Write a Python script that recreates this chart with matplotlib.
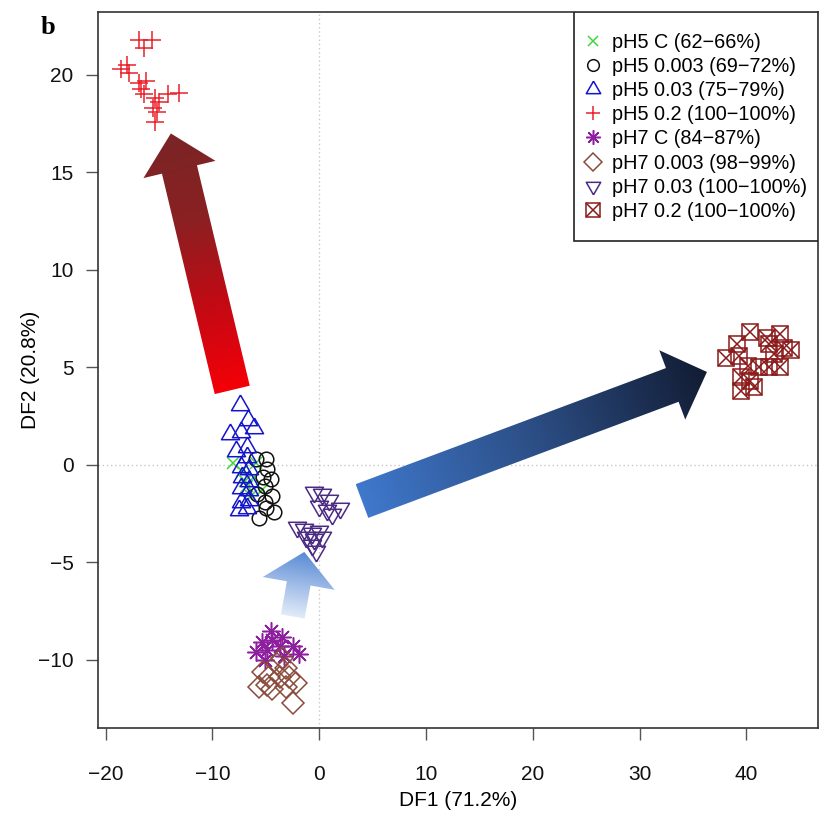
import numpy as np
import matplotlib
matplotlib.use('Agg')
import matplotlib.pyplot as plt
from matplotlib.patches import Polygon, Rectangle
from matplotlib.colors import LinearSegmentedColormap

plt.rcParams['font.family'] = ['Liberation Sans', 'DejaVu Sans']

# ---- data ----
ph5_c_x = [-8.1, -7.2, -6.1, -6.8, -5.9, -6.4, -7.0, -5.4]
ph5_c_y = [0.1, -0.3, -0.6, -1.1, 0.1, -1.6, -0.8, -1.3]

ph5_003_x = [-5.9, -5.0, -4.9, -5.3, -4.5, -5.1, -4.4, -5.1, -4.2, -5.6, -5.0, -5.8]
ph5_003_y = [0.3, 0.3, -0.2, -0.6, -0.7, -1.1, -1.6, -1.9, -2.4, -2.7, -2.2, -1.5]

ph5_03_x = [-7.4, -6.7, -8.4, -7.3, -6.1, -6.8, -7.8, -6.8, -7.3, -6.6,
            -7.2, -6.6, -7.3, -6.6, -7.3, -6.6, -7.5, -6.8]
ph5_03_y = [3.1, 2.3, 1.6, 1.7, 1.9, 0.9, 0.7, 0.4, -0.1, -0.2,
            -0.6, -0.8, -1.2, -1.3, -1.9, -1.8, -2.3, -2.2]

ph5_2_x = [-16.9, -15.7, -16.4, -18.6, -18.0, -17.8, -16.9, -16.2, -16.7,
           -16.4, -15.4, -14.2, -13.1, -15.0, -15.6, -15.2, -15.4]
ph5_2_y = [21.8, 21.8, 21.4, 20.3, 20.5, 20.1, 19.6, 19.7, 19.3,
           19.0, 18.8, 19.0, 19.1, 18.6, 18.3, 18.1, 17.6]

ph7_c_x = [-4.5, -5.4, -5.9, -4.4, -3.7, -2.5, -1.9, -4.9, -3.5, -5.1, -3.3]
ph7_c_y = [-8.5, -9.1, -9.6, -9.0, -9.3, -9.3, -9.7, -9.5, -8.8, -10.0, -9.8]

ph7_003_x = [-3.5, -4.0, -3.1, -5.3, -4.7, -3.7, -5.6, -4.9, -2.8, -2.2, -2.5, -3.1, -4.4]
ph7_003_y = [-9.9, -10.2, -10.4, -10.6, -10.9, -10.9, -11.4, -11.3, -10.9, -11.2, -12.2, -11.4, -11.5]

ph7_03_x = [-0.5, 0.3, 0.9, 0.0, 0.7, 1.9, 1.2, -2.1, -1.4, -0.7, 0.0, -1.2, -0.5, 0.3, -0.3, -0.7]
ph7_03_y = [-1.4, -1.5, -1.8, -2.1, -2.3, -2.2, -2.5, -3.2, -3.3, -3.5, -3.4, -3.7, -3.8, -3.7, -4.4, -4.1]

ph7_2_x = [40.3, 41.9, 43.1, 39.1, 38.1, 39.3, 40.1, 42.1, 43.5, 44.2,
           42.6, 41.2, 42.1, 43.1, 39.5, 40.3, 39.5, 40.7]
ph7_2_y = [6.8, 6.5, 6.7, 6.2, 5.5, 5.6, 5.1, 6.2, 6.0, 5.9,
           5.7, 5.0, 5.0, 5.0, 4.5, 4.3, 3.8, 4.0]

labels = ['pH5 C (62\u221266%)', 'pH5 0.003 (69\u221272%)', 'pH5 0.03 (75\u221279%)',
          'pH5 0.2 (100\u2212100%)', 'pH7 C (84\u221287%)', 'pH7 0.003 (98\u221299%)',
          'pH7 0.03 (100\u2212100%)', 'pH7 0.2 (100\u2212100%)']

# arrows: (tail, tip) in data units
arrow_red = ((-8.15, 3.85), (-13.9, 17.0))
arrow_blue = ((4.0, -1.85), (36.3, 4.77))
arrow_small = ((-2.48, -7.77), (-1.40, -4.46))

# ---- figure ----
W, H = 820, 817
fig = plt.figure(figsize=(W / 100, H / 100), dpi=100)
ax = fig.add_axes([98 / W, 1 - 728 / H, 720 / W, 716 / H])
XLIM = (-20.72, 46.7)
YLIM = (-13.49, 23.23)
ax.set_xlim(*XLIM)
ax.set_ylim(*YLIM)

ax.axhline(0, color='#c8c8c8', ls=(0, (1, 2)), lw=1, zorder=0)
ax.axvline(0, color='#c8c8c8', ls=(0, (1, 2)), lw=1, zorder=0)


def gradient_arrow(tail, tip, shaft_w, head_w, head_len, colors):
    T = ax.transData
    p0 = T.transform(tail)
    p1 = T.transform(tip)
    d = p1 - p0
    L = np.hypot(*d)
    u = d / L
    n = np.array([-u[1], u[0]])
    base = p1 - u * head_len
    pts = np.array([p0 + n * shaft_w / 2, base + n * shaft_w / 2, base + n * head_w / 2,
                    p1, base - n * head_w / 2, base - n * shaft_w / 2, p0 - n * shaft_w / 2])
    dpts = T.inverted().transform(pts)
    poly = Polygon(dpts, closed=True, facecolor='none', edgecolor='none')
    ax.add_patch(poly)
    x0, x1 = dpts[:, 0].min(), dpts[:, 0].max()
    y0, y1 = dpts[:, 1].min(), dpts[:, 1].max()
    gx, gy = np.meshgrid(np.linspace(x0, x1, 300), np.linspace(y0, y1, 300))
    disp = T.transform(np.column_stack([gx.ravel(), gy.ravel()]))
    t = ((disp - p0) @ u / L).reshape(gx.shape)
    cmap = LinearSegmentedColormap.from_list('g', colors)
    im = ax.imshow(np.clip(t, 0, 1), extent=[x0, x1, y0, y1], origin='lower', cmap=cmap,
                   vmin=0, vmax=1, aspect='auto', interpolation='bilinear', zorder=1)
    im.set_clip_path(poly)


gradient_arrow(*arrow_red, 36, 74, 37, ['#f40008', '#c20a14', '#8a2022', '#7a2526'])
gradient_arrow(*arrow_blue, 36, 74, 37, ['#3f78cc', '#2c4e85', '#121c33'])
gradient_arrow(*arrow_small, 24, 73, 32, ['#e2ecf9', '#5a8ad5'])

tri_up = [(0, 1), (-0.866, -0.5), (0.866, -0.5), (0, 1)]
tri_dn = [(0, -1), (-0.866, 0.5), (0.866, 0.5), (0, -1)]

kw = dict(ls='none', zorder=3)
h1, = ax.plot(ph5_c_x, ph5_c_y, marker='x', ms=9, mew=1.1, color='#3cd83c', **kw)
h2, = ax.plot(ph5_003_x, ph5_003_y, marker='o', ms=10.5, mew=1.1, mfc='none', mec='#111111', **kw)
h3, = ax.plot(ph5_03_x, ph5_03_y, marker=tri_up, ms=15, mew=1.1, mfc='none', mec='#1414cc', **kw)
h4, = ax.plot(ph5_2_x, ph5_2_y, marker='+', ms=13, mew=1.1, color='#e8202a', **kw)
h5, = ax.plot(ph7_c_x, ph7_c_y, marker=(8, 2, 0), ms=13, mew=1.1, color='#8e1f9e', **kw)
h6, = ax.plot(ph7_003_x, ph7_003_y, marker='D', ms=11.5, mew=1.1, mfc='none', mec='#8a4b3c', **kw)
h7, = ax.plot(ph7_03_x, ph7_03_y, marker=tri_dn, ms=15, mew=1.1, mfc='none', mec='#4b2a84', **kw)
h8a, = ax.plot(ph7_2_x, ph7_2_y, marker='s', ms=12, mew=1.1, mfc='none', mec='#8b1a1a', **kw)
h8b, = ax.plot(ph7_2_x, ph7_2_y, marker='x', ms=12, mew=1.1, color='#8b1a1a', **kw)

ax.set_xlim(*XLIM)
ax.set_ylim(*YLIM)
ax.set_xticks(np.arange(-20, 41, 10))
ax.set_yticks(np.arange(-10, 21, 5))
ax.tick_params(axis='both', direction='out', length=8.6, width=1, color='#555555',
               labelsize=15, labelcolor='#111111')
ax.tick_params(axis='x', pad=18)
ax.tick_params(axis='y', pad=9)
for s in ax.spines.values():
    s.set_color('#333333')
    s.set_linewidth(1.2)

ax.set_xlabel('DF1 (71.2%)', fontsize=15)
ax.set_ylabel('DF2 (20.8%)', fontsize=15)
ax.xaxis.set_label_coords(0.5, -0.088)
ax.yaxis.set_label_coords(-0.08, 0.5)

# legend box (R-style: taller at the bottom)
box = Rectangle((0.661, 0.680), 1 - 0.661, 0.320, transform=ax.transAxes,
                facecolor='white', edgecolor='#222222', lw=1.2, zorder=4)
ax.add_patch(box)
leg = ax.legend([h1, h2, h3, h4, h5, h6, h7, (h8a, h8b)], labels, loc='upper left',
                bbox_to_anchor=(0.682, 0.971), borderaxespad=0, borderpad=0, frameon=False,
                fontsize=14.3, markerscale=0.8, numpoints=1,
                handlelength=0.42, handletextpad=0.74, labelspacing=0.26)
leg.set_zorder(5)

fig.text(41 / W, 1 - 34 / H, 'b', fontsize=19, fontweight='bold',
         family='Liberation Serif', ha='left', va='baseline')

fig.savefig('out.png', dpi=100)
